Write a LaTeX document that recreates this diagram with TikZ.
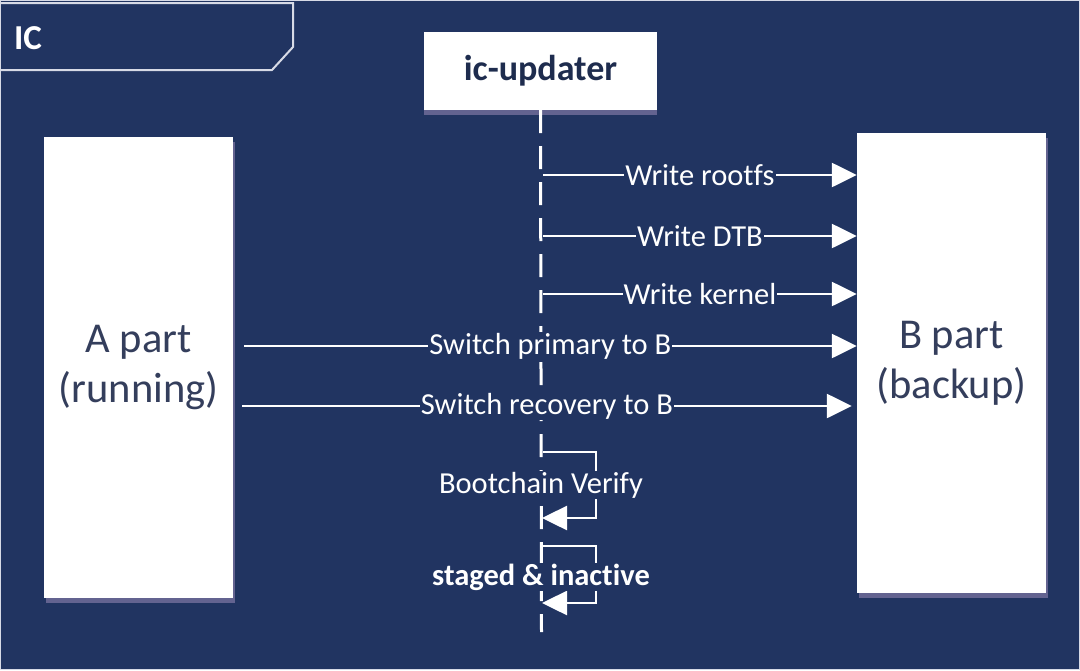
\documentclass[tikz,border=0pt]{standalone}
\usepackage{fontspec}
\setmainfont{Carlito}[Ligatures=NoCommon]
\usetikzlibrary{arrows.meta,shadows}
\definecolor{bg}{RGB}{33,52,97}
\definecolor{frame}{RGB}{215,218,230}
\definecolor{boxtxt}{RGB}{52,62,92}
\definecolor{updtxt}{RGB}{30,44,78}
\definecolor{shad}{RGB}{128,120,165}
\tikzset{
  partbox/.style={draw=none, fill=white, align=center, text=boxtxt,
    font=\fontsize{42.5}{50}\selectfont, inner sep=0pt,
    drop shadow={shadow xshift=2pt, shadow yshift=-5pt, fill=shad, opacity=0.7}},
  updbox/.style={draw=none, fill=white, text=updtxt, inner sep=0pt,
    font=\bfseries\fontsize{36}{42}\selectfont,
    drop shadow={shadow xshift=0pt, shadow yshift=-5pt, fill=shad, opacity=0.7}},
  msg/.style={draw=white, line width=2.5pt, -{Triangle[length=25pt,width=24pt]}},
  lbl/.style={fill=bg, text=white, inner sep=1pt, font=\fontsize{30.5}{36}\selectfont},
  lblb/.style={lbl, font=\bfseries\fontsize{30.5}{36}\selectfont},
  life/.style={draw=white, line width=3pt, dash pattern=on 23pt off 13pt},
}
\begin{document}
\begin{tikzpicture}[x=1pt,y=-1pt]
\useasboundingbox (0,0) rectangle (1080,670);
\fill[bg] (0,0) rectangle (1080,670);
\draw[frame, line width=1.2pt] (0.6,0.6) rectangle (1079.4,669.4);
% tab
\draw[frame, line width=2pt] (0,3) -- (293,3) -- (293,47) -- (272,70) -- (0,70);
\node[text=white, font=\bfseries\fontsize{35}{40}\selectfont] (ic) at (28,38) {IC};

% boxes
\node[updbox, minimum width=233pt, minimum height=78pt] (upd) at (540.5,71) {ic-updater};
\node[partbox, minimum width=189pt, minimum height=461pt] (A) at (138.5,367.5) {A part\\(running)};
\node[partbox, minimum width=189pt, minimum height=460pt] (B) at (951.5,363) {B part\\(backup)};

% lifeline
\coordinate (lend) at (541.5,632);
\draw[life] (upd.south) -- (lend);

% messages from lifeline
\coordinate (w1) at (543,175);
\coordinate (w2) at (543,236);
\coordinate (w3) at (543,294);
\draw[msg] (w1) -- (w1 -| B.west) node[lbl, pos=0.5] {Write rootfs};
\draw[msg] (w2) -- (w2 -| B.west) node[lbl, pos=0.5] {Write DTB};
\draw[msg] (w3) -- (w3 -| B.west) node[lbl, pos=0.5] {Write kernel};

% messages from A
\coordinate (s1) at (244,346);
\coordinate (s2) at (242,406);
\draw[msg] (s1) -- (s1 -| B.west) node[lbl, pos=0.5] {Switch primary to B};
\draw[msg] (s2) -- ([xshift=-5pt]s2 -| B.west) node[lbl, pos=0.5] {Switch recovery to B};

% self loops
\coordinate (b1) at (543,452);
\coordinate (b2) at (596,452);
\coordinate (b3) at (596,518);
\coordinate (b4) at (542,518);
\draw[msg] (b1) -- (b2) -- (b3) -- (b4);
\node[lbl] (bv) at (541,485) {Bootchain Verify};

\coordinate (c1) at (543,546);
\coordinate (c2) at (596,546);
\coordinate (c3) at (596,603);
\coordinate (c4) at (542,603);
\draw[msg] (c1) -- (c2) -- (c3) -- (c4);
\node[lblb] (si) at (541,577) {staged \& inactive};
\end{tikzpicture}
\end{document}
